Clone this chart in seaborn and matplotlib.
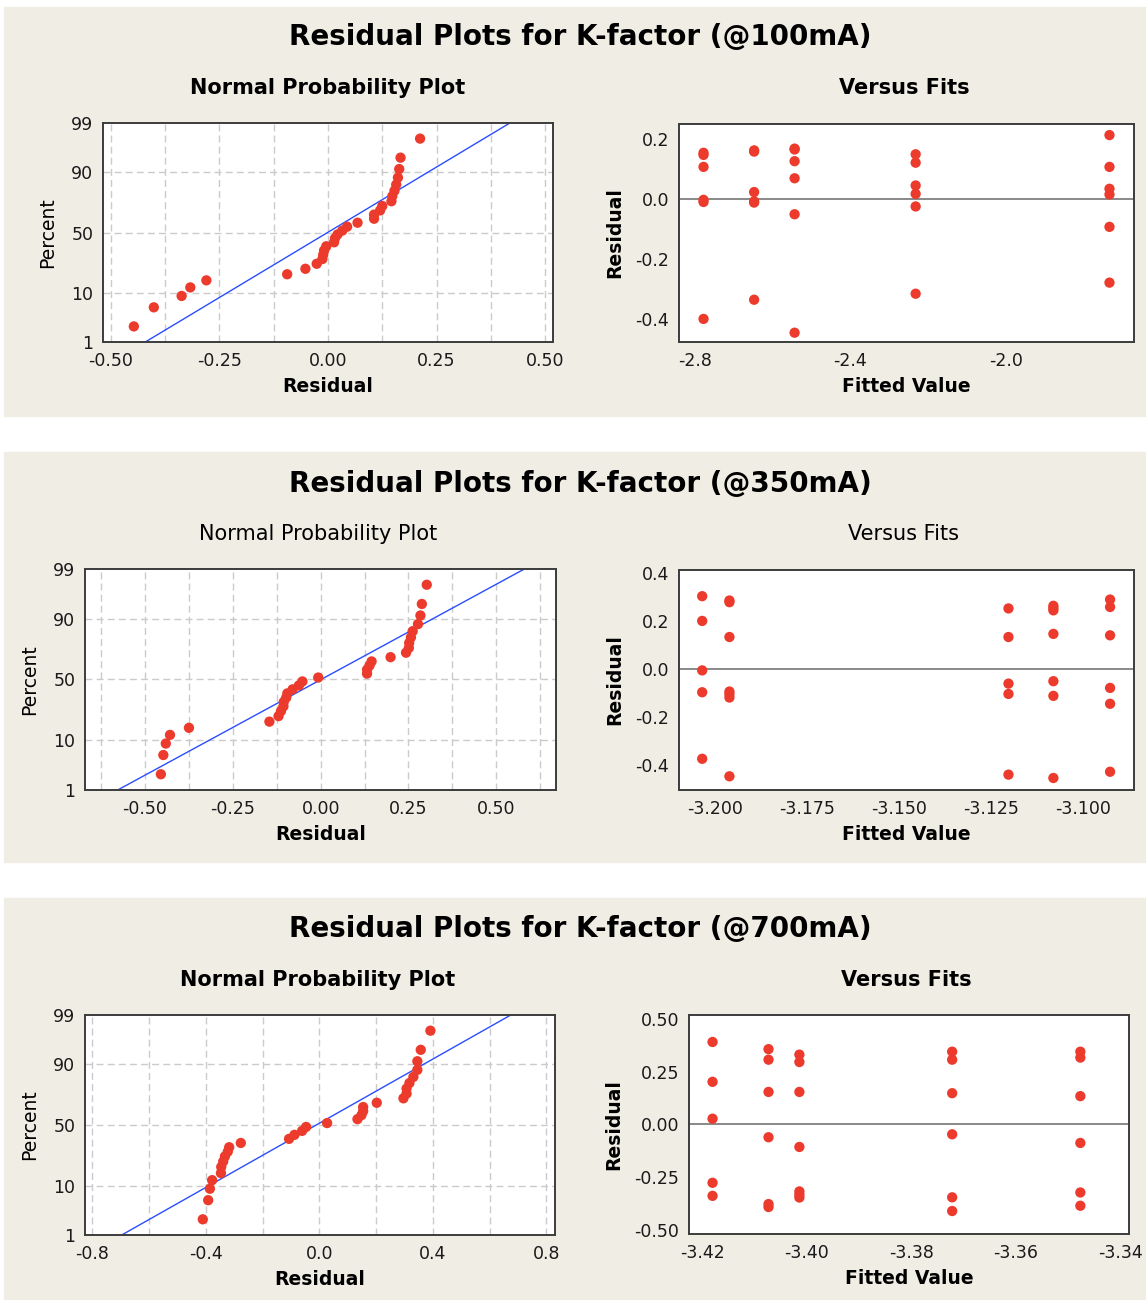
import numpy as np
import pandas as pd
import matplotlib
matplotlib.use("Agg")
import matplotlib.pyplot as plt
from matplotlib.patches import Rectangle
import seaborn as sns
from statistics import NormalDist

fit_100 = [-2.777, -2.647, -2.543, -2.232, -1.734]
res_100 = [[0.153, 0.146, 0.106, -0.004, -0.011, -0.401],
           [0.161, 0.157, 0.022, -0.009, -0.013, -0.337],
           [0.167, 0.164, 0.125, 0.068, -0.052, -0.447],
           [0.148, 0.120, 0.044, 0.016, -0.026, -0.317],
           [0.212, 0.106, 0.033, 0.014, -0.094, -0.280]]

fit_350 = [-3.2034, -3.196, -3.1202, -3.108, -3.0926]
res_350 = [[0.302, 0.199, -0.007, -0.098, -0.375],
           [0.284, 0.277, 0.132, -0.095, -0.106, -0.120, -0.448],
           [0.251, 0.132, -0.062, -0.105, -0.441],
           [0.262, 0.252, 0.243, 0.145, -0.052, -0.113, -0.455],
           [0.288, 0.257, 0.139, -0.080, -0.146, -0.429]]

fit_700 = [-3.418, -3.4073, -3.4014, -3.3722, -3.3477]
res_700 = [[0.391, 0.202, 0.027, -0.277, -0.339],
           [0.357, 0.307, 0.154, -0.061, -0.378, -0.392],
           [0.331, 0.296, 0.154, -0.107, -0.318, -0.333, -0.347],
           [0.345, 0.307, 0.148, -0.047, -0.346, -0.411],
           [0.345, 0.317, 0.134, -0.088, -0.323, -0.386]]

titles = ["Residual Plots for K-factor (@100mA)",
          "Residual Plots for K-factor (@350mA)",
          "Residual Plots for K-factor (@700mA)"]
pct_ticks = [1, 10, 50, 90, 99]

RED = "#ec3b2c"
BLUE = "#2a4dff"
BG = "#f0ede5"
GRID = "#cbcbcb"
EDGE = "#3c3c3c"

sns.set_style("white")
plt.rcParams["font.family"] = ["DejaVu Sans"]
plt.rcParams["axes.unicode_minus"] = False
plt.rcParams["text.color"] = "black"
plt.rcParams["axes.labelcolor"] = "black"

W, H = 1146, 1300
fig = plt.figure(figsize=(W / 100, H / 100), dpi=100)
nd = NormalDist()


def box(l, t, r, b):
    return [l / W, 1 - b / H, (r - l) / W, (b - t) / H]


def frame(ax):
    ax.set_facecolor("white")
    for s in ax.spines.values():
        s.set_color(EDGE)
        s.set_linewidth(1.4)
    ax.tick_params(direction="out", length=4, width=1, color=EDGE,
                   labelsize=12.5, labelcolor="#1a1a1a", pad=3)


def npp(ax, groups, xmaj, xgrid, xlim, fmt):
    r = np.sort(np.concatenate([np.array(g) for g in groups]))
    n = len(r)
    z = [nd.inv_cdf((i - 0.3) / (n + 0.4)) for i in range(1, n + 1)]
    zlo, zhi = nd.inv_cdf(0.01), nd.inv_cdf(0.99)
    mu, sd = r.mean(), r.std(ddof=1)
    for g in xgrid:
        ax.axvline(g, color=GRID, lw=1, dashes=(5, 3), zorder=0)
    for p in [10, 50, 90]:
        ax.axhline(nd.inv_cdf(p / 100), color=GRID, lw=1, dashes=(5, 3), zorder=0)
    line = pd.DataFrame({"res": [mu + sd * zlo, mu + sd * zhi], "z": [zlo, zhi]})
    sns.lineplot(data=line, x="res", y="z", color=BLUE, lw=1, ax=ax)
    pts = pd.DataFrame({"res": r, "z": z})
    sns.scatterplot(data=pts, x="res", y="z", color=RED, s=55,
                    edgecolor="none", ax=ax, zorder=3)
    ax.set_xlim(*xlim)
    ax.set_ylim(zlo, zhi)
    ax.set_xticks(xmaj)
    ax.set_xticklabels([fmt.format(v) for v in xmaj])
    ax.set_yticks([nd.inv_cdf(p / 100) for p in pct_ticks])
    ax.set_yticklabels([str(p) for p in pct_ticks])
    frame(ax)


def vfits(ax, fits, groups, xmaj, xlim, xfmt, ymaj, ylim, yfmt):
    df = pd.DataFrame({"fit": [f for f, g in zip(fits, groups) for _ in g],
                       "res": [v for g in groups for v in g]})
    ax.axhline(0, color="#808080", lw=1.3, zorder=1)
    sns.scatterplot(data=df, x="fit", y="res", color=RED, s=55,
                    edgecolor="none", ax=ax, zorder=3)
    ax.set_xlim(*xlim)
    ax.set_ylim(*ylim)
    ax.set_xticks(xmaj)
    ax.set_xticklabels([xfmt.format(v) for v in xmaj])
    ax.set_yticks(ymaj)
    ax.set_yticklabels([yfmt.format(v) for v in ymaj])
    frame(ax)


# panel backgrounds
for t, b in [(7, 416), (452, 862), (898, 1300)]:
    fig.patches.append(Rectangle((4 / W, 1 - b / H), 1, (b - t) / H,
                                 transform=fig.transFigure, color=BG, zorder=-5))

panels = [
    dict(title_y=37, sub_y=88, sub_x=(328, 904), sub_w="bold",
         npp_box=(103, 123, 553, 342), vf_box=(679, 124, 1134, 342),
         groups=res_100, fits=fit_100,
         xmaj=[-0.5, -0.25, 0, 0.25, 0.5], xgrid=np.arange(-0.5, 0.51, 0.125),
         xlim=(-0.518, 0.518), nfmt="{:.2f}",
         vx=[-2.8, -2.4, -2.0], vxlim=(-2.840, -1.671), vxfmt="{:.1f}",
         vy=[0.2, 0.0, -0.2, -0.4], vylim=(-0.478, 0.249), vyfmt="{:.1f}"),
    dict(title_y=484, sub_y=534, sub_x=(318, 904), sub_w="normal",
         npp_box=(85, 569, 556, 790), vf_box=(679, 570, 1134, 790),
         groups=res_350, fits=fit_350,
         xmaj=[-0.5, -0.25, 0, 0.25, 0.5], xgrid=np.arange(-0.625, 0.626, 0.125),
         xlim=(-0.671, 0.670), nfmt="{:.2f}",
         vx=[-3.2, -3.175, -3.15, -3.125, -3.1], vxlim=(-3.2097, -3.0861), vxfmt="{:.3f}",
         vy=[0.4, 0.2, 0.0, -0.2, -0.4], vylim=(-0.505, 0.411), vyfmt="{:.1f}"),
    dict(title_y=929, sub_y=980, sub_x=(318, 906), sub_w="bold",
         npp_box=(85, 1015, 555, 1235), vf_box=(689, 1015, 1129, 1234),
         groups=res_700, fits=fit_700,
         xmaj=[-0.8, -0.4, 0, 0.4, 0.8], xgrid=np.arange(-0.8, 0.81, 0.2),
         xlim=(-0.826, 0.830), nfmt="{:.1f}",
         vx=[-3.42, -3.40, -3.38, -3.36, -3.34], vxlim=(-3.4225, -3.3384), vxfmt="{:.2f}",
         vy=[0.5, 0.25, 0.0, -0.25, -0.5], vylim=(-0.520, 0.519), vyfmt="{:.2f}"),
]

for p, title in zip(panels, titles):
    fig.text(580 / W, 1 - p["title_y"] / H, title, ha="center", va="center",
             fontsize=20, fontweight="bold")
    fig.text(p["sub_x"][0] / W, 1 - p["sub_y"] / H, "Normal Probability Plot",
             ha="center", va="center", fontsize=15, fontweight=p["sub_w"])
    fig.text(p["sub_x"][1] / W, 1 - p["sub_y"] / H, "Versus Fits",
             ha="center", va="center", fontsize=15, fontweight=p["sub_w"])

    ax1 = fig.add_axes(box(*p["npp_box"]))
    npp(ax1, p["groups"], p["xmaj"], p["xgrid"], p["xlim"], p["nfmt"])
    ax1.set_xlabel("Residual", fontsize=13.5, fontweight="bold", labelpad=5)
    ax1.set_ylabel("Percent", fontsize=13.5, labelpad=10)

    ax2 = fig.add_axes(box(*p["vf_box"]))
    vfits(ax2, p["fits"], p["groups"], p["vx"], p["vxlim"], p["vxfmt"],
          p["vy"], p["vylim"], p["vyfmt"])
    ax2.set_xlabel("Fitted Value", fontsize=13.5, fontweight="bold", labelpad=5)
    ax2.set_ylabel("Residual", fontsize=13.5, fontweight="bold", labelpad=8)

fig.savefig("out.png", dpi=100, facecolor="white")
plt.close(fig)
